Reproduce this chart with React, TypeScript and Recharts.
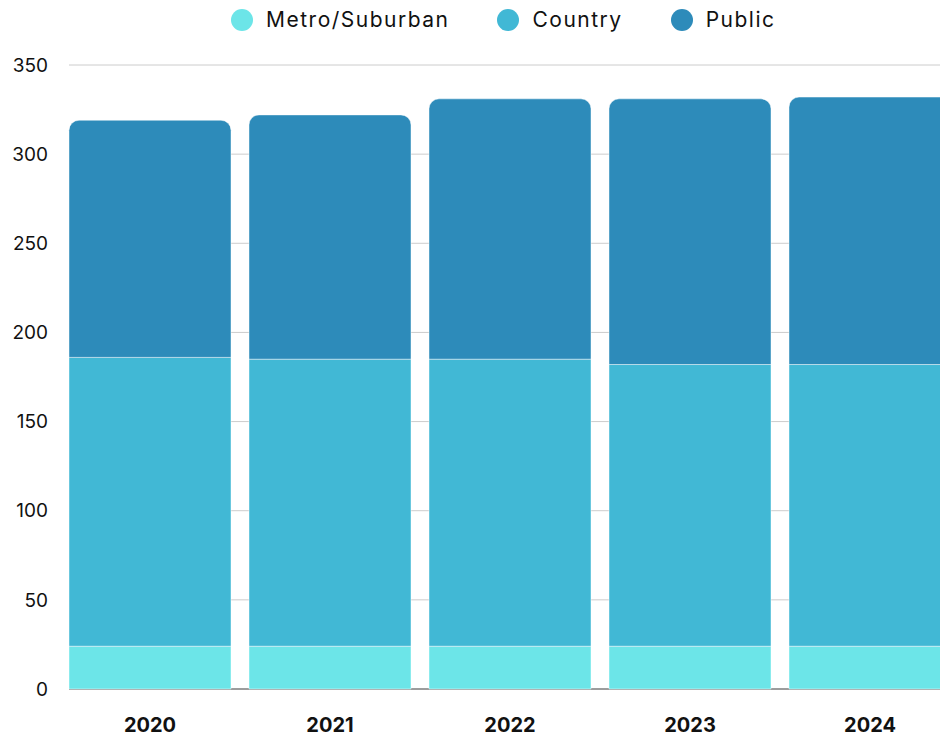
import React from "react";
import { BarChart, Bar, XAxis, YAxis, CartesianGrid, Legend } from "recharts";

const years = ["2020", "2021", "2022", "2023", "2024"];
const metroSuburban = [24, 24, 24, 24, 24];
const country = [162, 161, 161, 158, 158];
const publicSchools = [133, 137, 146, 149, 150];
const yTicks = [0, 50, 100, 150, 200, 250, 300, 350];

const series = [
  { key: "metro", name: "Metro/Suburban", color: "#6ce5e8" },
  { key: "country", name: "Country", color: "#41b8d5" },
  { key: "public", name: "Public", color: "#2d8bba" },
];

const chartData = years.map((year, i) => ({
  year,
  metro: metroSuburban[i],
  country: country[i],
  public: publicSchools[i],
}));

const FONT = "Inter, 'Noto Sans', sans-serif";

function LegendContent() {
  return (
    <div
      style={{
        display: "flex",
        alignItems: "center",
        paddingLeft: 231,
        fontFamily: FONT,
        fontSize: 21,
        letterSpacing: 1.5,
        color: "#111",
      }}
    >
      {series.map((s, i) => (
        <div
          key={s.key}
          style={{ display: "flex", alignItems: "center", marginLeft: i === 0 ? 0 : 48 }}
        >
          <span
            style={{
              width: 22,
              height: 22,
              borderRadius: "50%",
              background: s.color,
              display: "inline-block",
              marginRight: 13,
            }}
          />
          <span>{s.name}</span>
        </div>
      ))}
    </div>
  );
}

export default function App() {
  return (
    <div style={{ width: 940, height: 737, overflow: "hidden", background: "#fff" }}>
      <style>{`body { margin: 0; overflow: hidden; }`}</style>
      <BarChart
        width={1007}
        height={737}
        data={chartData}
        barCategoryGap="5%"
        margin={{ top: 65, right: 38, bottom: 0, left: 0 }}
      >
        <CartesianGrid vertical={false} stroke="#cccccc" />
        {/* baseline drawn beneath the bars so it only shows in the gaps */}
        <CartesianGrid vertical={false} horizontalValues={[0]} stroke="#555555" />
        <Legend
          layout="horizontal"
          verticalAlign="middle"
          content={<LegendContent />}
          wrapperStyle={{ top: 7, left: 0, width: 1007 }}
        />
        <XAxis
          dataKey="year"
          height={48}
          padding={{ left: -9, right: 9 }}
          tickLine={false}
          tickSize={0}
          tickMargin={29}
          axisLine={false}
          tick={{ fontSize: 20, fontWeight: 700, fill: "#111", fontFamily: FONT }}
        />
        <YAxis
          width={69}
          domain={[0, 350]}
          ticks={yTicks}
          axisLine={false}
          tickLine={false}
          tickSize={0}
          tickMargin={21}
          tick={{ fontSize: 19, fill: "#111", fontFamily: FONT }}
        />
        {series.map((s, i) => (
          <Bar
            key={s.key}
            dataKey={s.key}
            name={s.name}
            stackId="a"
            fill={s.color}
            stroke="#ffffff"
            strokeOpacity={0.45}
            strokeWidth={1}
            radius={i === series.length - 1 ? [10, 10, 0, 0] : 0}
            isAnimationActive={false}
          />
        ))}
      </BarChart>
    </div>
  );
}
